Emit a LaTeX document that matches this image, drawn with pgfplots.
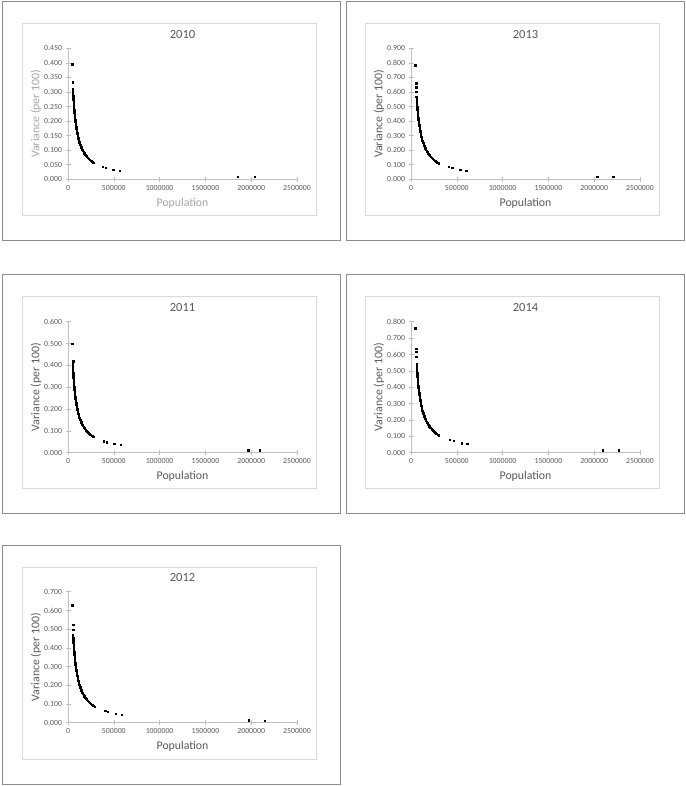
\documentclass[border=0pt]{standalone}
\usepackage{fontspec}
\setmainfont{Carlito}
\usepackage{pgfplots}
\pgfplotsset{compat=1.18}
\definecolor{ctext}{HTML}{595959}
\definecolor{clight}{HTML}{A6A6A6}
\definecolor{cline}{HTML}{BFBFBF}
\definecolor{cframe}{HTML}{D9D9D9}
\definecolor{couter}{HTML}{8C8C8C}
\newcommand{\ticklab}{\fontsize{7.8}{9}\selectfont}
\newcommand{\axlab}{\fontsize{11.8}{13}\selectfont}
\newcommand{\titlab}{\fontsize{12.5}{14}\selectfont}

\pgfplotsset{
  panel/.style={
    scale only axis, width=229pt, height=131pt,
    anchor=south west,
    axis x line*=bottom, axis y line*=left,
    axis line style={cline, line width=0.6pt},
    tick style={cline, line width=0.6pt},
    major tick length=5pt, tick align=center,
    xmin=0, xmax=2500000,
    xtick={0,500000,1000000,1500000,2000000,2500000},
    scaled x ticks=false, scaled y ticks=false, ymin=0,
    tick label style={font=\ticklab, text=ctext},
    xticklabel style={/pgf/number format/.cd, fixed, precision=0, 1000 sep={}, assume math mode=true},
    yticklabel style={/pgf/number format/.cd, fixed, fixed zerofill, precision=3, assume math mode=true},
    % the default title style carries yshift=6pt, cancelled here
    title style={at={(axis description cs:0.5,1.107)}, anchor=center, yshift=-6pt, font=\titlab, text=ctext},
    xlabel={Population},
    ylabel={Variance (per 100)},
    xlabel style={at={(axis description cs:0.5,-0.183)}, anchor=center, font=\axlab, text=ctext},
    ylabel style={at={(axis description cs:-0.1397,0.5)}, anchor=center, font=\axlab, text=ctext},
    clip=false,
  },
  pts/.style={only marks, mark=square*, mark size=0.7pt, black},
}

\begin{document}
\begin{tikzpicture}
\useasboundingbox (0,0) rectangle (685pt,786pt);
% outer and inner frames
\foreach \ox/\oy in {2/546, 346/546, 2/273, 346/273, 2/2} {
  \draw[couter, line width=0.8pt] (\ox pt,\oy pt) rectangle ++(338pt,239pt);
}
\foreach \ix/\iy in {22/571, 365/571, 22/298, 365/298, 22/27} {
  \draw[cframe, line width=0.6pt] (\ix pt,\iy pt) rectangle ++(294pt,192pt);
}

% 2010
\begin{axis}[panel, at={(68pt,606.7pt)}, title={2010}, ymax=0.45,
  ytick={0,0.05,0.1,0.15,0.2,0.25,0.3,0.35,0.4,0.45},
  xlabel style={text=clight}, ylabel style={text=clight}]
\addplot[pts] coordinates {
(47000,0.396) (49000,0.333) (50000,0.312) (51000,0.305)
(53000,0.2981) (54000,0.2926) (55000,0.2873) (56000,0.2821) (57000,0.2772) (58000,0.2724)
(59000,0.2678) (60000,0.2633) (61000,0.2590) (62000,0.2548) (63000,0.2508) (64000,0.2469)
(65000,0.2431) (66000,0.2394) (67000,0.2358) (68000,0.2324) (69000,0.2290) (70000,0.2257)
(72000,0.2194) (74000,0.2135) (76000,0.2079) (78000,0.2026) (80000,0.1975) (82000,0.1927)
(84000,0.1881) (86000,0.1837) (88000,0.1795) (90000,0.1756) (92000,0.1717) (94000,0.1681)
(96000,0.1646) (98000,0.1612) (100000,0.1580) (104000,0.1519) (108000,0.1463) (112000,0.1411)
(116000,0.1362) (120000,0.1317) (124000,0.1274) (128000,0.1234) (132000,0.1197) (136000,0.1162)
(140000,0.1129) (144000,0.1097) (148000,0.1068) (155000,0.1019) (162000,0.0975) (169000,0.0935)
(176000,0.0898) (183000,0.0863) (190000,0.0832) (197000,0.0802) (204000,0.0775) (212000,0.0745)
(223000,0.0708) (234000,0.0675) (245000,0.0645) (256000,0.0617) (267000,0.0592) (278000,0.0568)
(376000,0.0435) (412000,0.0400) (493000,0.0320) (566000,0.0286) (1850000,0.0090) (2037000,0.0080)
};
\end{axis}

% 2013
\begin{axis}[panel, at={(411pt,606.7pt)}, title={2013}, ymax=0.9,
  ytick={0,0.1,0.2,0.3,0.4,0.5,0.6,0.7,0.8,0.9}]
\addplot[pts] coordinates {
(47000,0.785) (58000,0.660) (58000,0.632) (58000,0.602)
(58000,0.5690) (59000,0.5593) (60000,0.5500) (61000,0.5410) (62000,0.5323) (63000,0.5238)
(64000,0.5156) (65000,0.5077) (66000,0.5000) (67000,0.4925) (68000,0.4853) (69000,0.4783)
(70000,0.4714) (72000,0.4583) (74000,0.4459) (76000,0.4342) (78000,0.4231) (80000,0.4125)
(82000,0.4024) (84000,0.3929) (86000,0.3837) (88000,0.3750) (90000,0.3667) (92000,0.3587)
(94000,0.3511) (96000,0.3438) (98000,0.3367) (100000,0.3300) (104000,0.3173) (108000,0.3056)
(112000,0.2946) (116000,0.2845) (120000,0.2750) (124000,0.2661) (128000,0.2578) (132000,0.2500)
(136000,0.2426) (140000,0.2357) (144000,0.2292) (148000,0.2230) (155000,0.2129) (162000,0.2037)
(169000,0.1953) (176000,0.1875) (183000,0.1803) (190000,0.1737) (197000,0.1675) (204000,0.1618)
(212000,0.1557) (223000,0.1480) (234000,0.1410) (245000,0.1347) (256000,0.1289) (267000,0.1236)
(278000,0.1187) (289000,0.1142) (300000,0.1100)
(412000,0.087) (449000,0.078) (537000,0.064) (602000,0.057) (2033000,0.018) (2208000,0.016)
};
\end{axis}

% 2011
\begin{axis}[panel, at={(68pt,333.3pt)}, title={2011}, ymax=0.6,
  ytick={0,0.1,0.2,0.3,0.4,0.5,0.6}]
\addplot[pts] coordinates {
(47000,0.500) (55000,0.419) (53000,0.405)
(51000,0.3922) (52000,0.3846) (53000,0.3774) (54000,0.3704) (55000,0.3636) (56000,0.3571)
(57000,0.3509) (58000,0.3448) (59000,0.3390) (60000,0.3333) (61000,0.3279) (62000,0.3226)
(63000,0.3175) (64000,0.3125) (65000,0.3077) (66000,0.3030) (67000,0.2985) (68000,0.2941)
(69000,0.2899) (70000,0.2857) (72000,0.2778) (74000,0.2703) (76000,0.2632) (78000,0.2564)
(80000,0.2500) (82000,0.2439) (84000,0.2381) (86000,0.2326) (88000,0.2273) (90000,0.2222)
(92000,0.2174) (94000,0.2128) (96000,0.2083) (98000,0.2041) (100000,0.2000) (104000,0.1923)
(108000,0.1852) (112000,0.1786) (116000,0.1724) (120000,0.1667) (124000,0.1613) (128000,0.1563)
(132000,0.1515) (136000,0.1471) (140000,0.1429) (144000,0.1389) (148000,0.1351) (155000,0.1290)
(162000,0.1235) (169000,0.1183) (176000,0.1136) (183000,0.1093) (190000,0.1053) (197000,0.1015)
(204000,0.0980) (212000,0.0943) (223000,0.0897) (234000,0.0855) (245000,0.0816) (256000,0.0781)
(267000,0.0749) (278000,0.0719)
(390000,0.052) (420000,0.0476) (504000,0.040) (573000,0.0353) (1967000,0.0123) (2091000,0.0107)
};
\end{axis}

% 2014
\begin{axis}[panel, at={(411pt,333.3pt)}, title={2014}, ymax=0.8,
  ytick={0,0.1,0.2,0.3,0.4,0.5,0.6,0.7,0.8}]
\addplot[pts] coordinates {
(47000,0.761) (58000,0.634) (58000,0.618) (58000,0.585)
(59000,0.5424) (60000,0.5333) (61000,0.5246) (62000,0.5161) (63000,0.5079) (64000,0.5000)
(65000,0.4923) (66000,0.4848) (67000,0.4776) (68000,0.4706) (69000,0.4638) (70000,0.4571)
(72000,0.4444) (74000,0.4324) (76000,0.4211) (78000,0.4103) (80000,0.4000) (82000,0.3902)
(84000,0.3810) (86000,0.3721) (88000,0.3636) (90000,0.3556) (92000,0.3478) (94000,0.3404)
(96000,0.3333) (98000,0.3265) (100000,0.3200) (104000,0.3077) (108000,0.2963) (112000,0.2857)
(116000,0.2759) (120000,0.2667) (124000,0.2581) (128000,0.2500) (132000,0.2424) (136000,0.2353)
(140000,0.2286) (144000,0.2222) (148000,0.2162) (155000,0.2065) (162000,0.1975) (169000,0.1893)
(176000,0.1818) (183000,0.1749) (190000,0.1684) (197000,0.1624) (204000,0.1569) (212000,0.1509)
(223000,0.1435) (234000,0.1368) (245000,0.1306) (256000,0.1250) (267000,0.1199) (278000,0.1151)
(289000,0.1107) (300000,0.1067)
(420000,0.0778) (464000,0.0716) (555000,0.059) (613000,0.055) (2091000,0.0164) (2270000,0.0164)
};
\end{axis}

% 2012
\begin{axis}[panel, at={(68pt,63.3pt)}, title={2012}, ymax=0.7,
  ytick={0,0.1,0.2,0.3,0.4,0.5,0.6,0.7}]
\addplot[pts] coordinates {
(44000,0.627) (55000,0.523) (55000,0.498)
(53000,0.4717) (54000,0.4630) (55000,0.4545) (56000,0.4464) (57000,0.4386) (58000,0.4310)
(59000,0.4237) (60000,0.4167) (61000,0.4098) (62000,0.4032) (63000,0.3968) (64000,0.3906)
(65000,0.3846) (66000,0.3788) (67000,0.3731) (68000,0.3676) (69000,0.3623) (70000,0.3571)
(72000,0.3472) (74000,0.3378) (76000,0.3289) (78000,0.3205) (80000,0.3125) (82000,0.3049)
(84000,0.2976) (86000,0.2907) (88000,0.2841) (90000,0.2778) (92000,0.2717) (94000,0.2660)
(96000,0.2604) (98000,0.2551) (100000,0.2500) (104000,0.2404) (108000,0.2315) (112000,0.2232)
(116000,0.2155) (120000,0.2083) (124000,0.2016) (128000,0.1953) (132000,0.1894) (136000,0.1838)
(140000,0.1786) (144000,0.1736) (148000,0.1689) (155000,0.1613) (162000,0.1543) (169000,0.1479)
(176000,0.1420) (183000,0.1366) (190000,0.1316) (197000,0.1269) (204000,0.1225) (212000,0.1179)
(223000,0.1121) (234000,0.1068) (245000,0.1020) (256000,0.0977) (267000,0.0936) (278000,0.0899)
(289000,0.0865)
(405000,0.0644) (434000,0.0573) (518000,0.048) (588000,0.043) (1971000,0.0125) (2146000,0.0107)
};
\end{axis}
\end{tikzpicture}
\end{document}
